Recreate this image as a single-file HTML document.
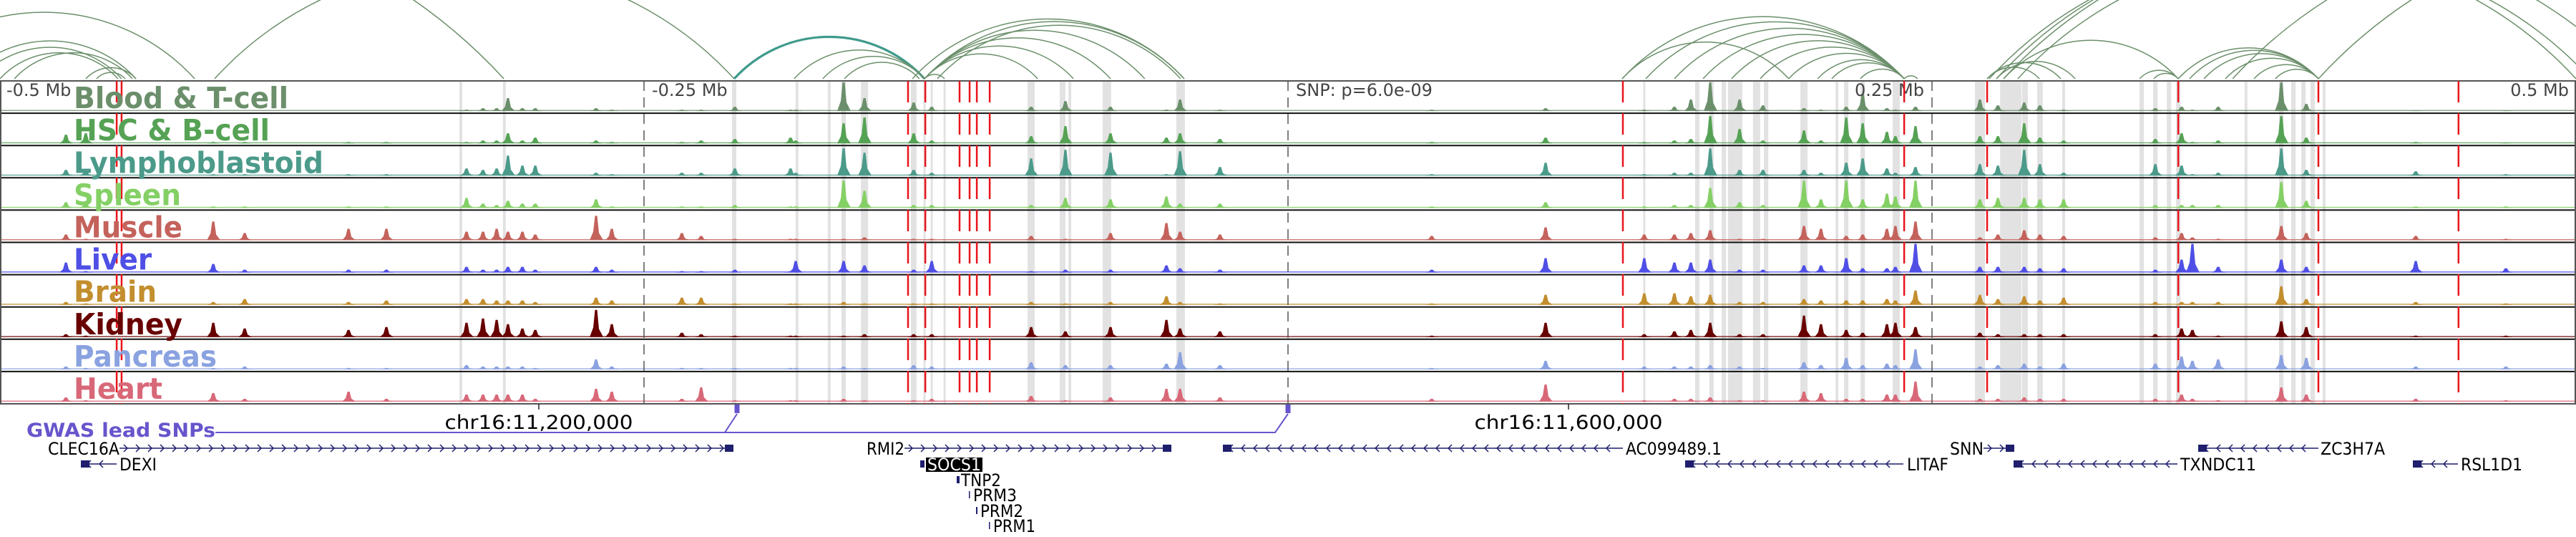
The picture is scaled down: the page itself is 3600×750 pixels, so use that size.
<!DOCTYPE html>
<html><head><meta charset="utf-8"><style>
html,body{margin:0;padding:0;background:#fff;}
svg{display:block;}
text{font-family:"DejaVu Sans","Liberation Sans",sans-serif;}
</style></head><body>
<svg id="chart" width="3600" height="750" viewBox="0 0 3600 750" xmlns="http://www.w3.org/2000/svg">
<g id="arcs"></g>
<g id="bands"></g>
<g id="tracks"></g>
<g id="ticks"></g>
<g id="snps"></g>
<g id="labels"></g>
<g id="genes"></g>
</svg>
<script>
// ---- data (positions in kb relative to lead SNP) ----
const peakKb = [-474.4,-466.7,-417.2,-405,-364.7,-350,-318.9,-312.5,-307.2,-302.8,-297.2,-292.2,-268.6,-262.5,-235.3,-227.8,-214.7,-193.1,-191.1,-172.5,-164.4,-145.3,-138.3,-99.7,-86.4,-68.9,-47.2,-41.9,-26.4,55.8,100,138.3,150,156.4,163.9,175.3,184.4,200.3,206.9,216.7,223.1,232.5,235.8,243.6,268.6,275.6,285.8,291.9,301.1,336.7,346.9,351.1,361.1,385.6,395.3,437.8,472.8];
const trackNames = ["Blood & T-cell","HSC & B-cell","Lymphoblastoid","Spleen","Muscle","Liver","Brain","Kidney","Pancreas","Heart"];
const bloodVals = [0,0,0,0,0,0,0.05,0.1,0.1,0.45,0.1,0.1,0.1,0.05,0.05,0.05,0.15,0.05,0.05,1.0,0.45,0.3,0.15,0.15,0.35,0.15,0.05,0.4,0.05,0.05,0.1,0.05,0.15,0.4,1.0,0.4,0.2,0.1,0.05,0.15,0.6,0.1,0.05,0.15,0.4,0.2,0.3,0.2,0.05,0.1,0.15,0.05,0.15,1.0,0.25,0.02,0.02];
const hscVals = [0.3,0.35,0.05,0.05,0.05,0.05,0.05,0.1,0.1,0.35,0.1,0.2,0.1,0.05,0.05,0.1,0.15,0.2,0.1,0.7,0.9,0.35,0.1,0.25,0.6,0.35,0.2,0.35,0.15,0.05,0.2,0.05,0.1,0.15,0.95,0.5,0.1,0.45,0.1,0.9,0.7,0.4,0.25,0.6,0.25,0.25,0.7,0.2,0.1,0.15,0.35,0.05,0.1,0.95,0.2,0.05,0.02];
const lymphoVals = [0.2,0.2,0.05,0.05,0.05,0.05,0.25,0.2,0.25,0.7,0.35,0.35,0.1,0.05,0.1,0.1,0.25,0.25,0.1,0.95,0.8,0.2,0.1,0.6,0.9,0.8,0.05,0.85,0.3,0.05,0.45,0.05,0.1,0.1,0.95,0.2,0.2,0.2,0.1,0.45,0.6,0.25,0.1,0.3,0.4,0.35,0.9,0.4,0.1,0.4,0.35,0.05,0.1,0.95,0.2,0.15,0.05];
const spleenVals = [0.2,0.2,0.05,0.05,0.05,0.05,0.35,0.15,0.1,0.25,0.15,0.15,0.3,0.05,0.05,0.05,0.1,0.05,0.05,0.95,0.6,0.1,0.1,0.1,0.35,0.3,0.4,0.15,0.15,0.05,0.2,0.05,0.1,0.1,0.7,0.2,0.1,0.95,0.3,0.95,0.3,0.5,0.4,0.95,0.3,0.35,0.35,0.3,0.3,0.1,0.1,0.1,0.1,0.9,0.25,0.05,0.05];
const muscleVals = [0.2,0.05,0.65,0.25,0.4,0.4,0.3,0.3,0.4,0.3,0.3,0.2,0.85,0.4,0.25,0.15,0.05,0.05,0.05,0.05,0.1,0.05,0.05,0.15,0.05,0.25,0.6,0.3,0.2,0.15,0.45,0.2,0.2,0.25,0.35,0.05,0.05,0.5,0.4,0.15,0.2,0.4,0.5,0.65,0.1,0.2,0.35,0.2,0.15,0.1,0.25,0.1,0.05,0.5,0.25,0.15,0.05];
const liverVals = [0.35,0.05,0.3,0.1,0.1,0.1,0.2,0.1,0.1,0.2,0.2,0.1,0.2,0.1,0.05,0.05,0.1,0.05,0.4,0.4,0.25,0.1,0.4,0.05,0.1,0.1,0.25,0.15,0.1,0.1,0.5,0.5,0.35,0.35,0.45,0.1,0.1,0.25,0.25,0.5,0.15,0.15,0.2,1.0,0.2,0.2,0.2,0.15,0.15,0.1,0.45,1.0,0.2,0.45,0.2,0.4,0.15];
const brainVals = [0.1,0.05,0.1,0.2,0.1,0.15,0.2,0.2,0.15,0.15,0.15,0.1,0.25,0.15,0.25,0.25,0.05,0.05,0.05,0.1,0.05,0.05,0.05,0.1,0.05,0.1,0.3,0.1,0.05,0.05,0.35,0.4,0.4,0.3,0.35,0.1,0.1,0.2,0.15,0.15,0.15,0.2,0.15,0.5,0.35,0.2,0.3,0.15,0.25,0.1,0.1,0.1,0.1,0.65,0.2,0.1,0.05];
const kidneyVals = [0.1,0.05,0.5,0.3,0.25,0.35,0.5,0.65,0.6,0.45,0.3,0.25,0.95,0.45,0.15,0.1,0.05,0.05,0.05,0.05,0.1,0.1,0.1,0.35,0.2,0.35,0.6,0.3,0.2,0.05,0.5,0.1,0.2,0.25,0.5,0.1,0.1,0.75,0.45,0.25,0.15,0.45,0.5,0.35,0.15,0.1,0.1,0.1,0.1,0.1,0.3,0.25,0.05,0.55,0.35,0.05,0.05];
const pancreasVals = [0.1,0.05,0.05,0.1,0.05,0.05,0.15,0.1,0.1,0.1,0.1,0.05,0.35,0.1,0.05,0.05,0.05,0.05,0.05,0.1,0.05,0.15,0.1,0.25,0.15,0.15,0.2,0.6,0.15,0.05,0.3,0.1,0.1,0.1,0.15,0.1,0.05,0.25,0.15,0.4,0.15,0.2,0.15,0.7,0.1,0.15,0.2,0.1,0.2,0.2,0.45,0.3,0.35,0.5,0.4,0.1,0.1];
const heartVals = [0.15,0.05,0.3,0.1,0.35,0.1,0.25,0.25,0.25,0.25,0.25,0.1,0.45,0.35,0.1,0.5,0.05,0.05,0.05,0.1,0.05,0.05,0.1,0.2,0.05,0.15,0.45,0.45,0.15,0.1,0.6,0.05,0.1,0.1,0.15,0.05,0.05,0.35,0.3,0.1,0.1,0.25,0.25,0.7,0.1,0.1,0.15,0.1,0.1,0.1,0.25,0.1,0.05,0.5,0.25,0.1,0.05];
const snpKb = [-454.7,-452.8,-147.5,-140.8,-127.5,-123.6,-120.8,-115.8,130,239.2,271.4,345.6,400,454.4];
const arcStartKb = [-611.1,-541.7,-513.9,-508.3,-500,-494.4,-466.7,-462.5,-416.7,-215,-191.7,-180.6,-172.2,-141.1,-141.1,-141.1,-141.1,-141.1,-145.8,-136.1,-141.1,129.7,129.7,138.9,150,161.1,172.2,183.3,194.4,205.6,211.1,222.2,239.2,271.4,271.4,275,272.2,275,277.8,283.3,277.8,330.6,336.1,345.6,350,355.6,363.9,375,383.3,366.7,400];
const arcEndKb = [-304.4,-424.4,-447.2,-452.8,-454.2,-448.6,-447.2,-451.4,-215,-141.1,-141.1,-141.1,-143.1,-97.2,-83.3,-68.9,-55.6,-40.3,-40.3,-41.7,-133.3,194.4,239.2,239.2,239.2,239.2,239.2,239.2,239.2,239.2,239.2,239.2,244.4,291.7,300,305.6,500,522.2,541.7,505.6,345.6,345.6,345.6,400,400,400,400,400,400,633.3,679.2];
const bandKb = [-321.1,-304.2,-215,-190.6,-178.1,-172.5,-164.4,-145.3,-141.1,-138.3,-133.3,-99.7,-87.5,-84.7,-70.3,-41.7,138.3,158.9,164.4,169.2,173.6,181.9,185.6,200.3,213.1,216.7,223.1,236.1,268.6,280.6,286.1,291.9,301.1,331.4,336.7,342.0,345.6,371.9,385.6,390.3,394.2,397.8,402.2];
const bandWidthKb = [1.1,1.1,1.7,1.1,1.1,1.7,2.8,2.2,0.8,0.8,0.8,2.8,2.2,1.1,3.3,3.3,0.8,1.7,1.7,1.7,5.6,2.8,1.7,2.8,1.1,1.7,1.7,2.8,3.9,8.3,2.2,2.2,1.1,1.7,1.7,1.7,1.7,1.1,1.7,1.7,1.7,1.7,1.1];
const axisLabels = ["-0.5 Mb","-0.25 Mb","SNP: p=6.0e-09","0.25 Mb","0.5 Mb"];
const axisKb = [-500,-250,0,250,500];

const NS="http://www.w3.org/2000/svg";
const X0=1800, PXKB=3.6;
const xs = kb => X0 + kb*PXKB;
const TOP=113, TH=45.1, N=10;
const colors=["#6b8f6b","#55a255","#4b9a8a","#84d065","#c4625c","#4f4fe6","#c28e2e","#680000","#8aa2e0","#d86878"];
const vals=[bloodVals,hscVals,lymphoVals,spleenVals,muscleVals,liverVals,brainVals,kidneyVals,pancreasVals,heartVals];
const labelW=[300,274,349,150,152,109,116,152,200,124];
function el(tag,attrs,parent){const e=document.createElementNS(NS,tag);for(const k in attrs)e.setAttribute(k,attrs[k]);parent.appendChild(e);return e;}

// arcs
const arcsG=document.getElementById('arcs');
const ARCBASE=110;
for(let i=0;i<arcStartKb.length;i++){
  const a=xs(arcStartKb[i]), b=xs(arcEndKb[i]);
  const c=Math.abs(b-a), h=0.22*c, r=(c*c/4+h*h)/(2*h);
  const thick=(arcStartKb[i]===-215 && arcEndKb[i]===-141.1);
  const p=el('path',{d:`M${a},${ARCBASE} A${r},${r} 0 0 1 ${b},${ARCBASE}`,fill:'none',stroke:thick?'#3f9a8c':'#6b8f6b','stroke-width':thick?3.2:1.5},arcsG);
  
  
}

// bands
const bandsG=document.getElementById('bands');
for(let i=0;i<bandKb.length;i++){
  const w=Math.max(3,bandWidthKb[i]*PXKB);
  const r=el('rect',{x:xs(bandKb[i])-w/2,y:TOP,width:w,height:TH*N,fill:'#e2e2e2'},bandsG);
  
  
}

// tracks
const tracksG=document.getElementById('tracks');
for(let t=0;t<N;t++){
  const y0=TOP+t*TH, base=y0+TH-3;
  const g=el('g',{},tracksG);
  
  
  el('rect',{x:0,y:base-1.5,width:3600,height:1.5,fill:colors[t],opacity:0.8},g);
  for(let i=0;i<peakKb.length;i++){
    const v=vals[t][i]; if(v<=0) continue;
    const x=xs(peakKb[i]), h=v*(TH-5);
    const p=el('path',{d:`M${x-9},${base} L${x-4},${base-h*0.35} L${x-1.5},${base-h} L${x+1.5},${base-h} L${x+4},${base-h*0.3} L${x+10},${base} Z`,fill:colors[t]},g);
    
    
  }
}
for(let t=1;t<N;t++){el('line',{x1:0,x2:3600,y1:TOP+t*TH,y2:TOP+t*TH,stroke:'#111','stroke-width':2},tracksG);}
el('rect',{x:1,y:TOP,width:3598,height:TH*N,fill:'none',stroke:'#555','stroke-width':2},tracksG);

// ticks
const ticksG=document.getElementById('ticks');
for(let i=0;i<axisKb.length;i++){
  const x=xs(axisKb[i]);
  if(i>0&&i<4){
    const l=el('line',{x1:x,x2:x,y1:TOP,y2:TOP+TH*N,stroke:'#555','stroke-width':1.5,'stroke-dasharray':'14,9'},ticksG);
    
    
  }
  let tx=x+11, anchor='start';
  if(i===0) tx=9; if(i===3){tx=x-11;anchor='end';} if(i===4){tx=3590;anchor='end';}
  const tt=el('text',{x:tx,y:134,'font-size':24,fill:'#444','text-anchor':anchor},ticksG);
  tt.textContent=axisLabels[i];
  
  
}

// snp lines
const snpG=document.getElementById('snps');
for(let i=0;i<snpKb.length;i++){
  const l=el('line',{x1:xs(snpKb[i]),x2:xs(snpKb[i]),y1:TOP,y2:TOP+TH*N,stroke:'#e8141b','stroke-width':2.5,'stroke-dasharray':'30,15'},snpG);
  
  
}

// labels
const labG=document.getElementById('labels');
for(let t=0;t<N;t++){
  const tx=el('text',{x:103,y:TOP+t*TH+TH-7,'font-size':41,'font-weight':'bold',fill:colors[t],textLength:labelW[t],lengthAdjust:'spacingAndGlyphs'},labG);
  tx.textContent=trackNames[t];
  
  
}
</script>
<script>
const G=document.getElementById('genes');
function mk(tag,attrs){const e=document.createElementNS(NS,tag);for(const k in attrs)e.setAttribute(k,attrs[k]);G.appendChild(e);return e;}
const NAVY='#1f1f6e';
[[753,"chr16:11,200,000"],[2192,"chr16:11,600,000"]].forEach(([x,s])=>{
  mk('line',{x1:x,x2:x,y1:564,y2:572,stroke:'#222','stroke-width':1.5});
  const t=mk('text',{x:x,y:599,'font-size':27,'text-anchor':'middle',fill:'#000',textLength:263,lengthAdjust:'spacingAndGlyphs'});
  t.textContent=s;
  
  
});
const gw=mk('text',{x:37,y:610,'font-size':27,'font-weight':'bold',fill:'#6655cc',textLength:264,lengthAdjust:'spacingAndGlyphs'});
gw.textContent='GWAS lead SNPs';


mk('polyline',{points:'301,604 1013,604 1030,578',fill:'none',stroke:'#6655cc','stroke-width':2});
mk('polyline',{points:'1013,604 1782,604 1800,578',fill:'none',stroke:'#6655cc','stroke-width':2});
[1030,1800].forEach(x=>{const r=mk('rect',{x:x-3.5,y:565,width:7,height:12,fill:'#6655cc'});});
const genes=[
 ["CLEC16A",167,1025,626,1,67,'start',100],
 ["DEXI",113,163,648,-1,167,'start',52],
 ["RMI2",1264,1637,626,1,1211,'start',53],
 ["AC099489.1",1709,2268,626,-1,2272,'start',134],
 ["LITAF",2355,2660,648,-1,2665,'start',58],
 ["SNN",2772,2815,626,1,2725,'start',47],
 ["TXNDC11",2814,3043,648,-1,3047,'start',106],
 ["ZC3H7A",3072,3240,626,-1,3243,'start',90],
 ["RSL1D1",3372,3435,648,-1,3439,'start',86]
];
genes.forEach(g=>{
  const [n,a,b,y,d,tx,an,tw]=g;
  const grp=document.createElementNS(NS,'g');G.appendChild(grp);
  
  
  const ln=document.createElementNS(NS,'line');
  ln.setAttribute('x1',a);ln.setAttribute('x2',b);ln.setAttribute('y1',y);ln.setAttribute('y2',y);ln.setAttribute('stroke',NAVY);ln.setAttribute('stroke-width',1.5);grp.appendChild(ln);
  let p='';
  for(let x=a+10;x<b-6;x+=17){p+= d>0?`M${x-4},${y-5} L${x+1},${y} L${x-4},${y+5} `:`M${x+4},${y-5} L${x-1},${y} L${x+4},${y+5} `;}
  const ch=document.createElementNS(NS,'path');ch.setAttribute('d',p);ch.setAttribute('fill','none');ch.setAttribute('stroke',NAVY);ch.setAttribute('stroke-width',1.5);grp.appendChild(ch);
  const blk=document.createElementNS(NS,'rect');
  const bx=d>0?b-12:a; blk.setAttribute('x',bx);blk.setAttribute('y',y-5);blk.setAttribute('width',12);blk.setAttribute('height',10);blk.setAttribute('fill',NAVY);grp.appendChild(blk);
  const t=document.createElementNS(NS,'text');t.setAttribute('x',tx);t.setAttribute('y',y+9);t.setAttribute('font-size',24);t.setAttribute('fill','#000');t.setAttribute('textLength',tw);t.setAttribute('lengthAdjust','spacingAndGlyphs');t.textContent=n;grp.appendChild(t);
});
mk('rect',{x:1286,y:643,width:6,height:10,fill:NAVY});
mk('rect',{x:1294,y:639,width:79,height:20,fill:'#000'});
const so=mk('text',{x:1296,y:657,'font-size':24,fill:'#fff',textLength:75,lengthAdjust:'spacingAndGlyphs'});so.textContent='SOCS1';


[["TNP2",1337,670,56,4],["PRM3",1354,691,61,1.5],["PRM2",1364,713,60,2],["PRM1",1382,734,59,1.5]].forEach(([n,x,y,w,bw])=>{
  mk('rect',{x:x,y:y-5,width:bw,height:10,fill:NAVY});
  const t=mk('text',{x:x+6,y:y+9,'font-size':24,fill:'#000',textLength:w,lengthAdjust:'spacingAndGlyphs'});t.textContent=n;
  
  
});
</script>
</body></html>
